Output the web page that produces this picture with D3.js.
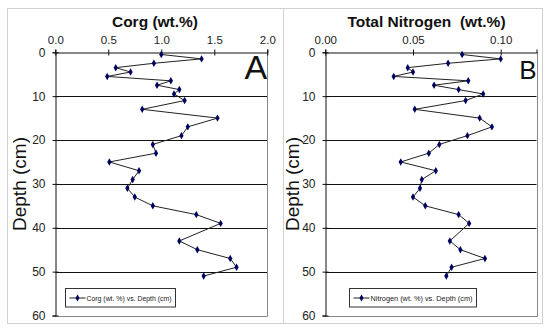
<!DOCTYPE html>
<html>
<head>
<meta charset="utf-8">
<script src="https://cdn.jsdelivr.net/npm/d3@7"></script>
<style>
  body { margin: 0; background: #fff; }
  svg { display: block; font-family: "Liberation Sans", Arial, sans-serif; }
</style>
</head>
<body>
<div class="chart"></div>
<script>
// depth of each sample (cm)
const depth = [0.5, 1.5, 2.5, 3.5, 4.5, 5.5, 6.5, 7.5, 8.5, 9.5,
               11, 13, 15, 17, 19, 21, 23, 25, 27, 29, 31, 33, 35, 37, 39,
               43, 45, 47, 49, 51];
const corg = [1.00, 1.38, 0.93, 0.57, 0.71, 0.49, 1.09, 0.96, 1.17, 1.12,
              1.22, 0.82, 1.53, 1.25, 1.19, 0.92, 0.95, 0.51, 0.79, 0.73,
              0.68, 0.75, 0.92, 1.33, 1.56, 1.17, 1.34, 1.65, 1.71, 1.40];
const nitrogen = [0.078, 0.100, 0.070, 0.047, 0.050, 0.039, 0.0815, 0.062, 0.076, 0.090,
                  0.080, 0.051, 0.088, 0.095, 0.081, 0.065, 0.059, 0.043, 0.063, 0.055,
                  0.054, 0.050, 0.057, 0.076, 0.082, 0.071, 0.077, 0.091, 0.072, 0.069];
const depthTicks = [0, 10, 20, 30, 40, 50, 60];
const corgTicks = [0, 0.5, 1.0, 1.5, 2.0];
const nitroTicks = [0, 0.05, 0.10];

const W = 550, H = 331;
const svg = d3.select(".chart").append("svg")
    .attr("width", W).attr("height", H);

// outer panel frames
svg.append("rect").attr("x", 7.5).attr("y", 8.5).attr("width", 276).attr("height", 315)
    .attr("fill", "none").attr("stroke", "#d0d0d0");
svg.append("rect").attr("x", 283.5).attr("y", 8.5).attr("width", 259).attr("height", 315)
    .attr("fill", "none").attr("stroke", "#d0d0d0");

function panel(o){
    const x = d3.scaleLinear().domain(o.xDomain).range([o.x0, o.x1]);
    const y = d3.scaleLinear().domain([0, 60]).range([52.3, 315.5]);
    const g = svg.append("g");

    // gridlines
    g.selectAll(".grid")
        .data(depthTicks.filter(d => d > 0 && d < 60))
        .enter().append("line")
        .attr("x1", o.x0).attr("x2", o.x1)
        .attr("y1", d => Math.round(y(d)) + 0.5).attr("y2", d => Math.round(y(d)) + 0.5)
        .attr("stroke", "#111").attr("stroke-width", 1);

    // right and bottom border (gray)
    g.append("path")
        .attr("d", `M${Math.round(o.x1) + 0.5},${Math.round(y(0))}V${Math.round(y(60)) + 0.5}H${Math.round(o.x0)}`)
        .attr("fill", "none").attr("stroke", "#888");

    // axes with cross ticks
    const xAxis = d3.axisTop(x).tickValues(o.xTicks).tickFormat(o.fmt)
        .tickSize(3).tickPadding(6);
    const gx = g.append("g")
        .attr("transform", `translate(0,${Math.round(y(0)) + 0.5})`)
        .call(xAxis);
    gx.selectAll(".tick line").attr("y1", 3);

    const yAxis = d3.axisLeft(y).tickValues(depthTicks).tickSize(3).tickPadding(7);
    const gy = g.append("g")
        .attr("transform", `translate(${Math.round(o.x0) + 0.5},0)`)
        .call(yAxis);
    gy.selectAll(".tick line").attr("x1", 3);

    [gx, gy].forEach(a => {
        a.select(".domain").attr("stroke", "#111");
        a.selectAll(".tick line").attr("stroke", "#111");
        a.selectAll("text").attr("fill", "#222").style("font-size", "11.5px")
            .style("font-family", "Liberation Sans, Arial, sans-serif");
    });
    gy.selectAll("text").style("font-size", "12px");

    // data line and points
    const pts = depth.map((d, i) => [x(o.values[i]), y(d)]);
    g.append("path")
        .attr("d", d3.line()(pts))
        .attr("fill", "none").attr("stroke", "#222").attr("stroke-width", 1);
    g.selectAll(".pt")
        .data(pts)
        .enter().append("path")
        .attr("transform", d => `translate(${d[0]},${d[1]})`)
        .attr("d", d3.symbol(d3.symbolDiamond, 16))
        .attr("fill", "#000060");

    // title
    svg.append("text")
        .attr("x", o.titleX).attr("y", 27)
        .attr("text-anchor", "middle")
        .style("font-weight", "bold").style("font-size", "15.5px")
        .attr("fill", "#111")
        .attr("xml:space", "preserve")
        .text(o.title);

    // y label
    svg.append("text")
        .attr("transform", `translate(${o.ylabX},184) rotate(-90)`)
        .attr("text-anchor", "middle")
        .style("font-size", "19px").attr("fill", "#111")
        .text("Depth (cm)");

    // panel letter
    svg.append("text")
        .attr("x", o.x1).attr("y", 79)
        .attr("text-anchor", "end")
        .style("font-size", o.letterSize).attr("fill", "#111")
        .text(o.letter);

    // legend
    const lg = svg.append("g").attr("transform", `translate(${o.legX},288.5)`);
    lg.append("rect").attr("width", o.legW).attr("height", 18.5)
        .attr("fill", "#fff").attr("stroke", "#333");
    lg.append("line").attr("x1", 4).attr("x2", 20).attr("y1", 9.5).attr("y2", 9.5)
        .attr("stroke", "#222");
    lg.append("path").attr("transform", "translate(12,9.5)")
        .attr("d", d3.symbol(d3.symbolDiamond, 14)).attr("fill", "#000060");
    lg.append("text").attr("x", 21).attr("y", 12.3)
        .style("font-size", "7.6px").attr("fill", "#222")
        .attr("textLength", o.legW - 25).attr("lengthAdjust", "spacingAndGlyphs")
        .text(o.legend);
}

panel({
    x0: 55.3, x1: 267.3, xDomain: [0, 2], xTicks: corgTicks, fmt: d3.format(".1f"),
    values: corg, title: "Corg (wt.%)", titleX: 155, ylabX: 26,
    letter: "A", letterSize: "34px",
    legX: 65.5, legW: 110, legend: "Corg (wt. %) vs. Depth (cm)"
});
panel({
    x0: 325.3, x1: 536.5, xDomain: [0, 0.1204], xTicks: nitroTicks, fmt: d3.format(".2f"),
    values: nitrogen, title: "Total Nitrogen  (wt.%)", titleX: 426.5, ylabX: 299,
    letter: "B", letterSize: "26px",
    legX: 349.5, legW: 127, legend: "Nitrogen (wt. %) vs. Depth (cm)"
});
</script>
</body>
</html>
